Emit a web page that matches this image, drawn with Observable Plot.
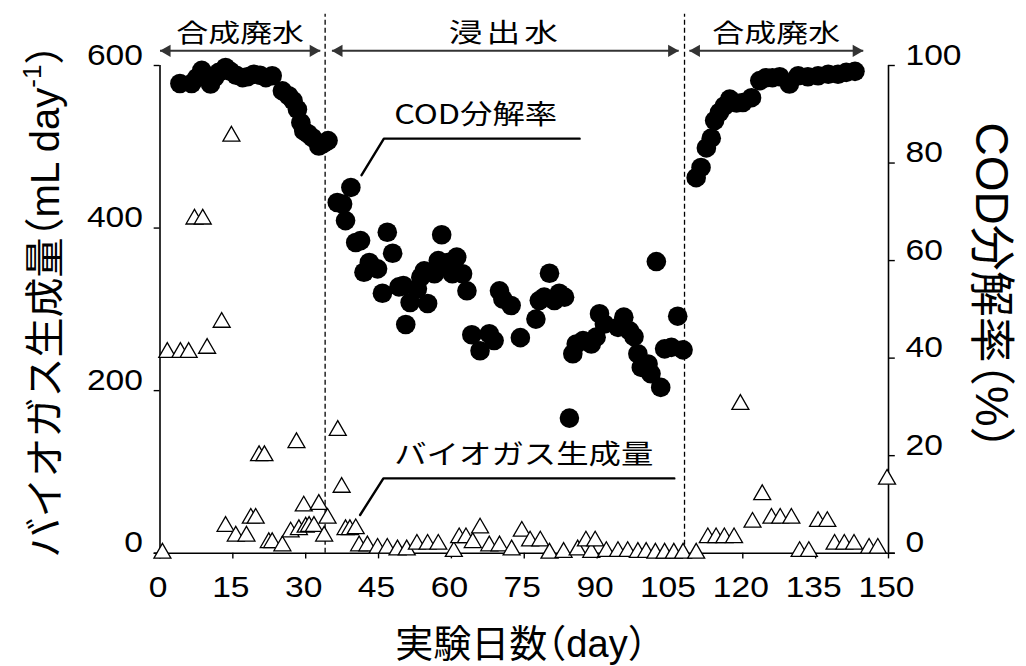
<!DOCTYPE html>
<html><head><meta charset="utf-8">
<script src="https://cdn.jsdelivr.net/npm/d3@7"></script>
<script src="https://cdn.jsdelivr.net/npm/@observablehq/plot@0.6"></script>
<style>
html,body{margin:0;padding:0;background:#fff;}
#chart{width:1026px;height:666px;overflow:hidden;}
</style></head>
<body><div id="chart"></div>
<script>
// ---- data ----
const codDay = [4.1,6.5,7.6,8.6,10.4,11.2,12.1,13.5,14.5,15.7,17.0,18.0,19.3,20.6,21.8,23.1,25.2,26.5,27.4,28.3,29.0,29.6,30.5,31.4,32.7,33.6,34.6,
  36.5,37.6,38.2,39.3,40.3,41.3,42.0,43.1,44.8,45.8,46.8,47.9,49.2,50.1,50.6,51.5,53.0,53.7,54.4,55.1,56.5,57.3,58.0,59.2,60.2,61.1,62.3,63.2,64.2,65.9,67.8,68.8,69.9,70.6,72.3,74.2,77.4,78.1,79.1,80.2,81.2,82.2,83.3,84.3,85.0,85.7,87.1,88.8,89.8,90.5,91.5,94.3,95.5,96.7,97.6,98.4,99.1,100.5,101.1,102.2,103.1,103.9,105.3,106.6,107.7,
  110.4,111.4,112.5,113.5,114.2,115.2,116.2,117.3,118.7,120.0,121.8,123.5,124.8,126.1,127.6,129.6,131.4,133.4,135.5,137.6,139.6,141.3,143.1];
const codPct = [96.3,96.3,97.5,99.0,96.2,97.5,98.6,99.6,98.8,98.0,97.5,97.7,98.2,98.0,97.5,97.9,94.8,93.8,92.8,91.0,88.3,86.6,86.0,85.2,83.5,84.0,84.6,
  71.9,71.6,68.2,75.0,63.7,64.1,57.6,59.6,58.3,53.3,65.8,61.5,54.6,54.9,46.9,51.4,54.2,56.6,57.9,51.2,57.3,60.0,65.3,59.6,57.3,60.7,57.3,53.8,44.8,41.5,45.0,43.6,53.8,52.1,50.8,44.2,48.0,51.8,52.5,57.4,51.8,53.3,52.5,27.7,40.9,42.9,43.6,42.9,44.3,49.1,47.0,46.3,48.4,45.6,44.4,40.9,38.1,38.8,36.8,59.8,34.0,41.9,42.2,48.6,41.7,
  77.0,79.1,83.1,85.1,88.7,90.4,91.7,93.1,92.3,92.4,93.4,96.9,97.5,97.5,97.7,96.2,97.9,97.7,97.9,98.2,98.2,98.6,98.8];
const gasDay = [0.5,1.5,4.2,5.9,7.1,8.8,9.7,12.7,13.5,14.7,15.6,17.8,18.7,19.7,20.4,21.5,22.4,23.1,25.2,26.9,
  28.1,28.6,29.6,30.0,30.7,31.7,32.7,33.8,34.5,36.6,37.4,38.2,39.1,40.3,41.0,42.7,44.8,46.8,48.9,50.8,
  52.9,55.1,57.3,60.5,61.6,63.0,64.4,65.9,67.8,69.9,72.4,74.5,76.2,78.3,80.2,83.1,86.0,87.7,88.8,89.6,
  91.9,94.3,96.3,98.4,100.1,102.0,103.9,105.8,107.7,110.4,112.8,114.5,116.2,118.2,119.5,122.0,124.0,125.9,127.7,130.0,
  131.7,133.6,135.5,137.4,138.9,140.9,142.9,146.0,147.8,149.7];
const gasVal = [0,247,247,247,411,411,252,284,33,513,21,21,43,43,120,120,13,13,9,26,
  136,29,58,32,33,33,60,21,43,151,81,29,29,30,9,9,6,6,4,4,
  11,11,11,2,19,19,13,31,9,9,4,27,15,15,0,1,4,15,1,15,
  2,2,2,1,1,0,0,0,0,0,19,19,19,19,183,38,72,43,43,43,
  2,2,39,39,11,11,11,6,6,91];
const xTicks = [0,15,30,45,60,75,90,105,120,135,150];
const yTicksLeft = [0,200,400,600];
const yTicksRight = [0,20,40,60,80,100];
const phaseNames = ["合成廃水","浸出水","合成廃水"];
const phaseStart = [0,35.4,109.0];
const phaseEnd = [33.0,106.8,144.8];
const phaseSwitch = [34,108];

// ---- tables ----
const PCT_TO_ML = 6; // 100 % on the right axis = 600 mL on the left axis
const cod = codDay.map((d,i)=>({day:d, pct:codPct[i]}));
const gas = gasDay.map((d,i)=>({day:d, val:gasVal[i]}));
const phases = phaseNames.map((n,i)=>({name:n, x1:phaseStart[i], x2:phaseEnd[i], xm:(phaseStart[i]+phaseEnd[i])/2}));

const NUM = "'Liberation Sans', Arial, 'Noto Sans CJK JP', sans-serif";
const JP = "'Noto Sans CJK JP', 'Noto Sans', sans-serif";
const ARROW_Y = 618, LABEL_Y = 629;

const codLeader = [{x:41.5,y:465},{x:46.1,y:510},{x:86.4,y:510}];
const gasLeader = [{x:41.2,y:47},{x:46.0,y:92},{x:105.9,y:92}];

const chart = Plot.plot({
  width:1026, height:666,
  marginTop:65, marginRight:138, marginBottom:113.3, marginLeft:159.5,
  x:{domain:[0,150], axis:null},
  y:{domain:[0,600], axis:null},
  style:{background:"white", overflow:"visible"},
  marks:[
    Plot.ruleX(phaseSwitch, {x:d=>d, y1:0, y2:663, stroke:"#000", strokeWidth:1.3, strokeDasharray:"5,3"}),
    Plot.ruleX([0,150], {x:d=>d, y1:0, y2:600, stroke:"#000", strokeWidth:1.6}),
    Plot.ruleY([0], {y:d=>d, x1:-1.2, x2:151.4, stroke:"#000", strokeWidth:1.6}),
    Plot.ruleX(xTicks, {x:d=>d, y1:0, y2:-7, stroke:"#000", strokeWidth:1.4}),
    Plot.ruleY(yTicksLeft, {y:d=>d, x1:0, x2:-1.2, stroke:"#000", strokeWidth:1.4}),
    Plot.ruleY(yTicksRight, {y:d=>d*PCT_TO_ML, x1:150, x2:151.4, stroke:"#000", strokeWidth:1.4}),
    Plot.text(xTicks, {x:d=>d, y:0, dy:44, dx:-2, text:d=>String(d), fontSize:30, fontFamily:NUM, fill:"#000", ariaDescription:"xticklabels"}),
    Plot.text(yTicksLeft, {x:0, y:d=>d, dx:-17, dy:-1, text:d=>String(d), textAnchor:"end", fontSize:30, fontFamily:NUM, fill:"#000", ariaDescription:"yticklabels"}),
    Plot.text(yTicksRight, {x:150, y:d=>d*PCT_TO_ML, dx:17, dy:-1, text:d=>String(d), textAnchor:"start", fontSize:30, fontFamily:NUM, fill:"#000", ariaDescription:"rticklabels"}),
    Plot.dot(gas, {x:"day", y:"val", symbol:"triangle", r:6.3, fill:"white", stroke:"#000", strokeWidth:1.3}),
    Plot.dot(cod, {x:"day", y:d=>d.pct*PCT_TO_ML, r:9.8, fill:"#000", stroke:"none"}),
    Plot.line(codLeader, {x:"x", y:"y", stroke:"#000", strokeWidth:2.4}),
    Plot.line(gasLeader, {x:"x", y:"y", stroke:"#000", strokeWidth:2.4}),
    Plot.text(["COD分解率"], {x:65.0, y:528, text:d=>d, fontSize:27, fontFamily:JP, fill:"#000", ariaDescription:"annot"}),
    Plot.text(["バイオガス生成量"], {x:74.9, y:110, text:d=>d, fontSize:27, fontFamily:JP, fill:"#000", ariaDescription:"annot"}),
    Plot.link(phases, {x1:"x1", x2:"x2", y1:ARROW_Y, y2:ARROW_Y, stroke:"#333", strokeWidth:2}),
    Plot.dot(phases, {x:"x1", y:ARROW_Y, dx:7, symbol:"triangle", rotate:-90, r:4.6, fill:"#333", stroke:"none"}),
    Plot.dot(phases, {x:"x2", y:ARROW_Y, dx:-7, symbol:"triangle", rotate:90, r:4.6, fill:"#333", stroke:"none"}),
    Plot.text(phases.filter(p=>p.name!=="浸出水"), {x:"xm", y:LABEL_Y, text:"name", fontSize:25, fontFamily:JP, fill:"#000", ariaDescription:"phase"}),
    Plot.text(phases.filter(p=>p.name==="浸出水"), {x:"xm", y:LABEL_Y, text:"name", fontSize:26, fontFamily:JP, fill:"#000", ariaDescription:"phase2"})
  ]
});
document.getElementById("chart").appendChild(chart);

function stretch(sel, k){
  sel.each(function(){
    const t = d3.select(this);
    const x = +t.attr("x") || 0, y = +t.attr("y") || 0;
    const tr = t.attr("transform") || "";
    t.attr("x", null).attr("y", null).attr("transform", `${tr} translate(${x},${y}) scale(${k},1)`);
  });
}
const svg = d3.select(chart);
stretch(svg.selectAll('g[aria-description="xticklabels"] text'), 1.12);
stretch(svg.selectAll('g[aria-description="yticklabels"] text'), 1.12);
stretch(svg.selectAll('g[aria-description="rticklabels"] text'), 1.12);
stretch(svg.selectAll('g[aria-description="annot"] text'), 1.2);
stretch(svg.selectAll('g[aria-description="phase"] text'), 1.28);
stretch(svg.selectAll('g[aria-description="phase2"] text').style("letter-spacing","3px"), 1.3);

const T = svg.append("g").attr("fill","#000").style("font-feature-settings","'halt' 1");
const lt = T.append("text").attr("transform","translate(45,301) rotate(-90)")
  .attr("text-anchor","middle").attr("dy","0.36em")
  .style("font-family",NUM).style("font-size","40px");
lt.append("tspan").text("バイオガス生成量（mL day");
lt.append("tspan").attr("dy","-0.7em").style("font-size","26px").text("-1");
lt.append("tspan").attr("dy","0.45em").text("）");
T.append("text").attr("transform","translate(993,286) rotate(90)")
  .attr("text-anchor","middle").attr("dy","0.36em")
  .style("font-family",NUM).style("font-size","46px").text("COD分解率（%）");
T.append("text").attr("transform","translate(521,643)")
  .attr("text-anchor","middle").attr("dy","0.36em")
  .style("font-family",NUM).style("font-size","38px").text("実験日数（day）");
</script>
</body></html>
